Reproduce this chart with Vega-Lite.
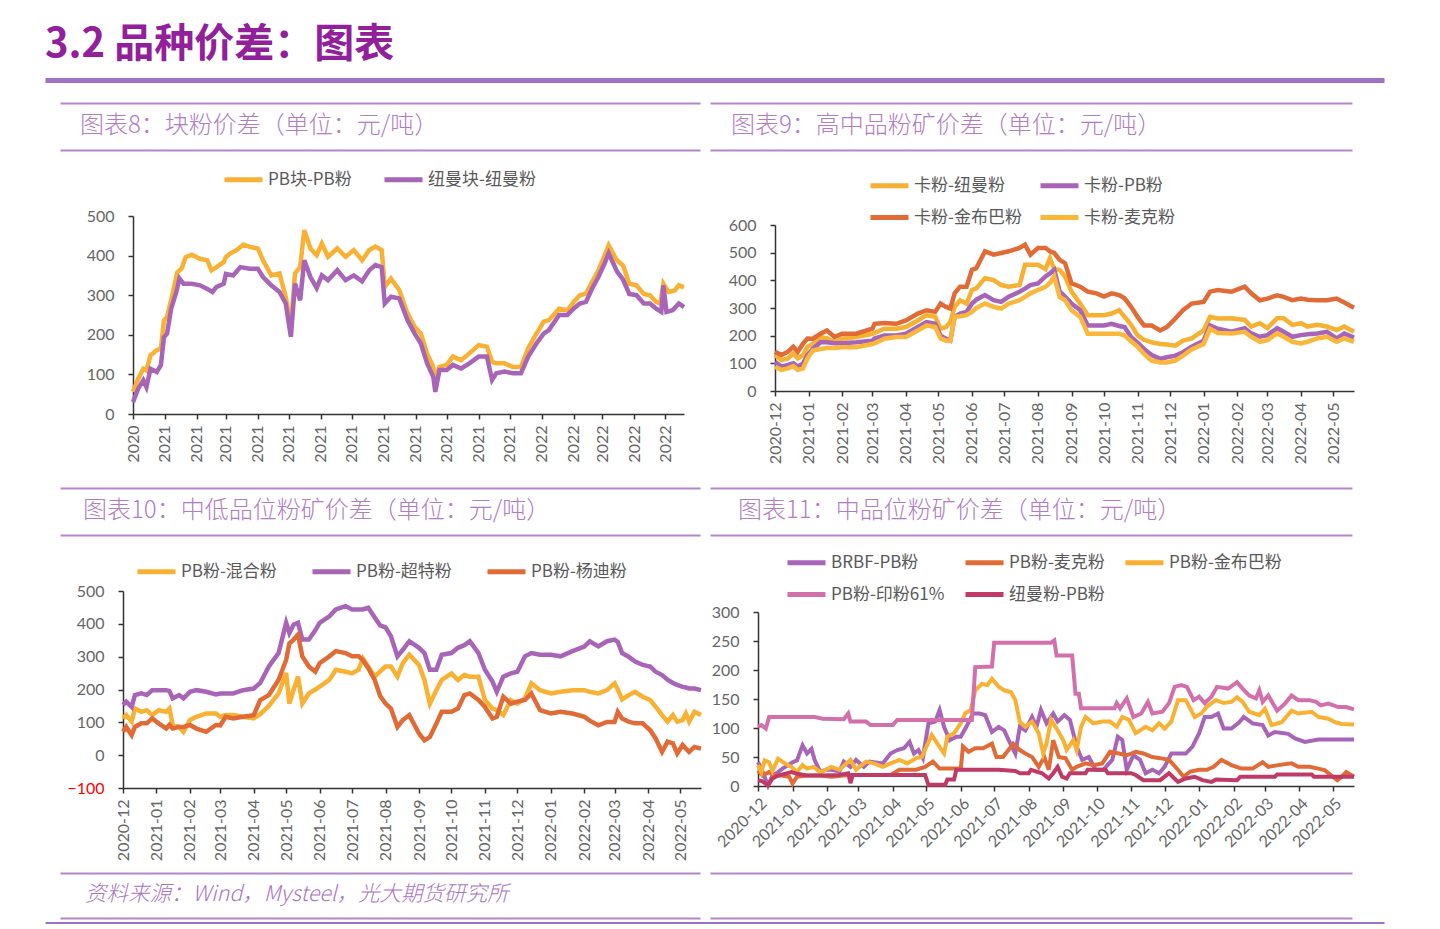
{
"$schema": "https://vega.github.io/schema/vega-lite/v6.json",
"background": "white",
"padding": {"left": 45, "top": 25, "right": 5, "bottom": 0},
"spacing": 0,
"resolve": {"scale": {"color": "independent", "x": "independent", "y": "independent"}, "legend": {"color": "independent"}},
"config": {
  "view": {"stroke": null},
  "font": "Noto Sans CJK SC",
  "axis": {"labelFont": "Lato", "labelFontSize": 16, "labelColor": "#666666", "domainColor": "#333333", "domainWidth": 1.5, "tickColor": "#333333", "tickWidth": 1.5, "tickSize": 5, "grid": false},
  "legend": {"labelFont": "Noto Sans CJK SC", "labelFontSize": 17, "labelColor": "#595959", "symbolType": "stroke", "symbolStrokeWidth": 5, "symbolSize": 1444, "labelOffset": 3}
},
"datasets": {
"p8a": [{"d":"2020-12-01","v":56},{"d":"2020-12-06","v":89},{"d":"2020-12-11","v":114},{"d":"2020-12-14","v":110},{"d":"2020-12-18","v":148},{"d":"2020-12-24","v":161},{"d":"2020-12-28","v":165},{"d":"2020-12-31","v":236},{"d":"2021-01-03","v":245},{"d":"2021-01-08","v":300},{"d":"2021-01-13","v":358},{"d":"2021-01-17","v":367},{"d":"2021-01-21","v":396},{"d":"2021-01-27","v":402},{"d":"2021-02-04","v":392},{"d":"2021-02-11","v":388},{"d":"2021-02-15","v":363},{"d":"2021-02-20","v":371},{"d":"2021-02-27","v":384},{"d":"2021-03-01","v":396},{"d":"2021-03-05","v":405},{"d":"2021-03-11","v":413},{"d":"2021-03-18","v":428},{"d":"2021-03-24","v":422},{"d":"2021-04-01","v":418},{"d":"2021-04-06","v":388},{"d":"2021-04-14","v":350},{"d":"2021-04-22","v":355},{"d":"2021-04-28","v":296},{"d":"2021-05-03","v":220},{"d":"2021-05-07","v":355},{"d":"2021-05-12","v":371},{"d":"2021-05-16","v":464},{"d":"2021-05-22","v":418},{"d":"2021-05-28","v":401},{"d":"2021-06-02","v":430},{"d":"2021-06-08","v":397},{"d":"2021-06-17","v":418},{"d":"2021-06-25","v":397},{"d":"2021-07-03","v":414},{"d":"2021-07-11","v":388},{"d":"2021-07-18","v":414},{"d":"2021-07-24","v":423},{"d":"2021-07-30","v":414},{"d":"2021-08-02","v":321},{"d":"2021-08-08","v":342},{"d":"2021-08-16","v":313},{"d":"2021-08-24","v":254},{"d":"2021-08-31","v":220},{"d":"2021-09-06","v":203},{"d":"2021-09-12","v":153},{"d":"2021-09-18","v":119},{"d":"2021-09-20","v":86},{"d":"2021-09-24","v":119},{"d":"2021-10-01","v":124},{"d":"2021-10-07","v":145},{"d":"2021-10-15","v":136},{"d":"2021-10-23","v":153},{"d":"2021-11-01","v":174},{"d":"2021-11-09","v":170},{"d":"2021-11-14","v":132},{"d":"2021-11-18","v":128},{"d":"2021-11-26","v":128},{"d":"2021-12-04","v":119},{"d":"2021-12-12","v":119},{"d":"2021-12-19","v":166},{"d":"2021-12-27","v":203},{"d":"2022-01-03","v":233},{"d":"2022-01-08","v":237},{"d":"2022-01-18","v":266},{"d":"2022-01-26","v":262},{"d":"2022-02-01","v":283},{"d":"2022-02-07","v":300},{"d":"2022-02-13","v":304},{"d":"2022-02-19","v":334},{"d":"2022-02-25","v":363},{"d":"2022-03-03","v":400},{"d":"2022-03-07","v":426},{"d":"2022-03-15","v":388},{"d":"2022-03-21","v":375},{"d":"2022-03-27","v":329},{"d":"2022-04-03","v":325},{"d":"2022-04-10","v":303},{"d":"2022-04-16","v":300},{"d":"2022-04-22","v":283},{"d":"2022-04-26","v":279},{"d":"2022-04-29","v":329},{"d":"2022-05-04","v":308},{"d":"2022-05-10","v":312},{"d":"2022-05-14","v":325},{"d":"2022-05-19","v":320}],
"p8b": [{"d":"2020-12-01","v":30},{"d":"2020-12-06","v":64},{"d":"2020-12-11","v":85},{"d":"2020-12-14","v":68},{"d":"2020-12-18","v":114},{"d":"2020-12-24","v":106},{"d":"2020-12-28","v":123},{"d":"2020-12-31","v":194},{"d":"2021-01-03","v":203},{"d":"2021-01-07","v":266},{"d":"2021-01-12","v":308},{"d":"2021-01-15","v":342},{"d":"2021-01-19","v":329},{"d":"2021-01-27","v":329},{"d":"2021-02-04","v":325},{"d":"2021-02-11","v":316},{"d":"2021-02-16","v":308},{"d":"2021-02-20","v":321},{"d":"2021-02-27","v":329},{"d":"2021-03-01","v":354},{"d":"2021-03-08","v":350},{"d":"2021-03-15","v":371},{"d":"2021-03-24","v":367},{"d":"2021-04-01","v":367},{"d":"2021-04-06","v":346},{"d":"2021-04-14","v":325},{"d":"2021-04-22","v":308},{"d":"2021-04-28","v":279},{"d":"2021-05-03","v":195},{"d":"2021-05-07","v":329},{"d":"2021-05-12","v":287},{"d":"2021-05-16","v":388},{"d":"2021-05-22","v":346},{"d":"2021-05-28","v":318},{"d":"2021-06-02","v":350},{"d":"2021-06-08","v":338},{"d":"2021-06-17","v":363},{"d":"2021-06-25","v":338},{"d":"2021-07-03","v":350},{"d":"2021-07-11","v":335},{"d":"2021-07-18","v":363},{"d":"2021-07-24","v":376},{"d":"2021-07-30","v":371},{"d":"2021-08-02","v":279},{"d":"2021-08-08","v":296},{"d":"2021-08-16","v":292},{"d":"2021-08-24","v":237},{"d":"2021-08-31","v":203},{"d":"2021-09-06","v":178},{"d":"2021-09-12","v":128},{"d":"2021-09-18","v":94},{"d":"2021-09-20","v":56},{"d":"2021-09-24","v":111},{"d":"2021-10-01","v":111},{"d":"2021-10-07","v":124},{"d":"2021-10-15","v":115},{"d":"2021-10-23","v":128},{"d":"2021-11-01","v":145},{"d":"2021-11-09","v":145},{"d":"2021-11-14","v":86},{"d":"2021-11-18","v":103},{"d":"2021-11-26","v":107},{"d":"2021-12-04","v":103},{"d":"2021-12-12","v":103},{"d":"2021-12-19","v":145},{"d":"2021-12-27","v":178},{"d":"2022-01-03","v":203},{"d":"2022-01-08","v":212},{"d":"2022-01-18","v":250},{"d":"2022-01-26","v":250},{"d":"2022-02-01","v":266},{"d":"2022-02-07","v":279},{"d":"2022-02-13","v":283},{"d":"2022-02-19","v":317},{"d":"2022-02-25","v":346},{"d":"2022-03-03","v":380},{"d":"2022-03-07","v":406},{"d":"2022-03-15","v":360},{"d":"2022-03-21","v":339},{"d":"2022-03-27","v":303},{"d":"2022-04-03","v":300},{"d":"2022-04-10","v":279},{"d":"2022-04-16","v":279},{"d":"2022-04-22","v":266},{"d":"2022-04-27","v":258},{"d":"2022-04-29","v":325},{"d":"2022-05-02","v":258},{"d":"2022-05-08","v":262},{"d":"2022-05-14","v":279},{"d":"2022-05-19","v":270}],
"p9a": [{"d":"2020-12-01","v":130},{"d":"2020-12-07","v":112},{"d":"2020-12-13","v":118},{"d":"2020-12-18","v":136},{"d":"2020-12-22","v":118},{"d":"2020-12-27","v":130},{"d":"2020-12-31","v":160},{"d":"2021-01-05","v":170},{"d":"2021-01-12","v":195},{"d":"2021-01-18","v":190},{"d":"2021-01-25","v":176},{"d":"2021-02-01","v":189},{"d":"2021-02-14","v":195},{"d":"2021-03-01","v":207},{"d":"2021-03-03","v":210},{"d":"2021-03-12","v":225},{"d":"2021-03-23","v":225},{"d":"2021-04-01","v":231},{"d":"2021-04-12","v":255},{"d":"2021-04-20","v":274},{"d":"2021-04-28","v":268},{"d":"2021-05-03","v":225},{"d":"2021-05-08","v":231},{"d":"2021-05-12","v":250},{"d":"2021-05-16","v":304},{"d":"2021-05-21","v":328},{"d":"2021-05-27","v":316},{"d":"2021-06-01","v":365},{"d":"2021-06-05","v":371},{"d":"2021-06-13","v":408},{"d":"2021-06-21","v":401},{"d":"2021-06-28","v":383},{"d":"2021-07-05","v":377},{"d":"2021-07-15","v":383},{"d":"2021-07-20","v":456},{"d":"2021-07-25","v":456},{"d":"2021-08-01","v":456},{"d":"2021-08-08","v":440},{"d":"2021-08-12","v":480},{"d":"2021-08-16","v":440},{"d":"2021-08-21","v":438},{"d":"2021-08-26","v":414},{"d":"2021-09-01","v":359},{"d":"2021-09-09","v":316},{"d":"2021-09-16","v":274},{"d":"2021-09-24","v":274},{"d":"2021-10-01","v":274},{"d":"2021-10-08","v":280},{"d":"2021-10-15","v":292},{"d":"2021-10-20","v":268},{"d":"2021-10-26","v":240},{"d":"2021-11-01","v":201},{"d":"2021-11-07","v":185},{"d":"2021-11-14","v":176},{"d":"2021-11-22","v":170},{"d":"2021-11-28","v":168},{"d":"2021-12-06","v":164},{"d":"2021-12-13","v":182},{"d":"2021-12-21","v":190},{"d":"2022-01-01","v":219},{"d":"2022-01-07","v":268},{"d":"2022-01-14","v":262},{"d":"2022-01-27","v":263},{"d":"2022-02-08","v":257},{"d":"2022-02-14","v":233},{"d":"2022-02-22","v":245},{"d":"2022-03-01","v":227},{"d":"2022-03-10","v":263},{"d":"2022-03-16","v":263},{"d":"2022-03-24","v":239},{"d":"2022-04-01","v":245},{"d":"2022-04-07","v":233},{"d":"2022-04-16","v":239},{"d":"2022-04-25","v":233},{"d":"2022-05-04","v":220},{"d":"2022-05-11","v":233},{"d":"2022-05-20","v":214}],
"p9b": [{"d":"2020-12-01","v":106},{"d":"2020-12-07","v":88},{"d":"2020-12-13","v":94},{"d":"2020-12-18","v":100},{"d":"2020-12-22","v":88},{"d":"2020-12-27","v":100},{"d":"2020-12-31","v":130},{"d":"2021-01-05","v":152},{"d":"2021-01-12","v":176},{"d":"2021-01-18","v":176},{"d":"2021-01-25","v":173},{"d":"2021-02-01","v":173},{"d":"2021-02-14","v":176},{"d":"2021-03-01","v":182},{"d":"2021-03-03","v":190},{"d":"2021-03-12","v":201},{"d":"2021-03-23","v":201},{"d":"2021-04-01","v":207},{"d":"2021-04-12","v":231},{"d":"2021-04-20","v":249},{"d":"2021-04-28","v":243},{"d":"2021-05-03","v":200},{"d":"2021-05-08","v":189},{"d":"2021-05-12","v":182},{"d":"2021-05-16","v":268},{"d":"2021-05-21","v":280},{"d":"2021-05-27","v":286},{"d":"2021-06-01","v":316},{"d":"2021-06-05","v":330},{"d":"2021-06-13","v":347},{"d":"2021-06-21","v":328},{"d":"2021-06-28","v":322},{"d":"2021-07-05","v":341},{"d":"2021-07-15","v":359},{"d":"2021-07-20","v":370},{"d":"2021-07-25","v":383},{"d":"2021-08-01","v":389},{"d":"2021-08-08","v":414},{"d":"2021-08-12","v":425},{"d":"2021-08-16","v":438},{"d":"2021-08-21","v":360},{"d":"2021-08-26","v":341},{"d":"2021-09-01","v":316},{"d":"2021-09-09","v":292},{"d":"2021-09-16","v":237},{"d":"2021-09-24","v":237},{"d":"2021-10-01","v":237},{"d":"2021-10-08","v":243},{"d":"2021-10-15","v":235},{"d":"2021-10-20","v":231},{"d":"2021-10-26","v":195},{"d":"2021-11-01","v":175},{"d":"2021-11-07","v":152},{"d":"2021-11-14","v":130},{"d":"2021-11-22","v":116},{"d":"2021-11-28","v":122},{"d":"2021-12-06","v":128},{"d":"2021-12-13","v":140},{"d":"2021-12-21","v":160},{"d":"2022-01-01","v":182},{"d":"2022-01-07","v":237},{"d":"2022-01-14","v":225},{"d":"2022-01-27","v":214},{"d":"2022-02-08","v":227},{"d":"2022-02-14","v":208},{"d":"2022-02-22","v":196},{"d":"2022-03-01","v":202},{"d":"2022-03-10","v":227},{"d":"2022-03-16","v":214},{"d":"2022-03-24","v":196},{"d":"2022-04-01","v":202},{"d":"2022-04-07","v":205},{"d":"2022-04-16","v":208},{"d":"2022-04-25","v":214},{"d":"2022-05-04","v":190},{"d":"2022-05-11","v":208},{"d":"2022-05-20","v":193}],
"p9c": [{"d":"2020-12-01","v":142},{"d":"2020-12-07","v":130},{"d":"2020-12-13","v":142},{"d":"2020-12-18","v":160},{"d":"2020-12-22","v":142},{"d":"2020-12-27","v":172},{"d":"2020-12-31","v":190},{"d":"2021-01-05","v":189},{"d":"2021-01-12","v":207},{"d":"2021-01-18","v":219},{"d":"2021-01-25","v":195},{"d":"2021-02-01","v":207},{"d":"2021-02-14","v":207},{"d":"2021-03-01","v":225},{"d":"2021-03-03","v":243},{"d":"2021-03-12","v":246},{"d":"2021-03-23","v":243},{"d":"2021-04-01","v":255},{"d":"2021-04-12","v":280},{"d":"2021-04-20","v":292},{"d":"2021-04-28","v":286},{"d":"2021-05-03","v":316},{"d":"2021-05-08","v":304},{"d":"2021-05-12","v":298},{"d":"2021-05-16","v":353},{"d":"2021-05-21","v":377},{"d":"2021-05-27","v":377},{"d":"2021-06-01","v":438},{"d":"2021-06-05","v":444},{"d":"2021-06-13","v":505},{"d":"2021-06-21","v":493},{"d":"2021-06-28","v":499},{"d":"2021-07-05","v":505},{"d":"2021-07-15","v":517},{"d":"2021-07-20","v":529},{"d":"2021-07-25","v":493},{"d":"2021-08-01","v":517},{"d":"2021-08-08","v":517},{"d":"2021-08-12","v":505},{"d":"2021-08-16","v":499},{"d":"2021-08-21","v":474},{"d":"2021-08-26","v":462},{"d":"2021-09-01","v":389},{"d":"2021-09-09","v":377},{"d":"2021-09-16","v":359},{"d":"2021-09-24","v":353},{"d":"2021-10-01","v":341},{"d":"2021-10-08","v":353},{"d":"2021-10-15","v":347},{"d":"2021-10-20","v":335},{"d":"2021-10-26","v":304},{"d":"2021-11-01","v":268},{"d":"2021-11-07","v":237},{"d":"2021-11-14","v":237},{"d":"2021-11-22","v":219},{"d":"2021-11-28","v":231},{"d":"2021-12-06","v":262},{"d":"2021-12-13","v":292},{"d":"2021-12-21","v":316},{"d":"2022-01-01","v":322},{"d":"2022-01-07","v":359},{"d":"2022-01-14","v":365},{"d":"2022-01-27","v":359},{"d":"2022-02-08","v":377},{"d":"2022-02-14","v":353},{"d":"2022-02-22","v":328},{"d":"2022-03-01","v":334},{"d":"2022-03-10","v":346},{"d":"2022-03-16","v":340},{"d":"2022-03-24","v":328},{"d":"2022-04-01","v":334},{"d":"2022-04-07","v":330},{"d":"2022-04-16","v":328},{"d":"2022-04-25","v":328},{"d":"2022-05-04","v":334},{"d":"2022-05-11","v":320},{"d":"2022-05-20","v":301}],
"p9d": [{"d":"2020-12-01","v":88},{"d":"2020-12-07","v":76},{"d":"2020-12-13","v":82},{"d":"2020-12-18","v":90},{"d":"2020-12-22","v":76},{"d":"2020-12-27","v":82},{"d":"2020-12-31","v":118},{"d":"2021-01-05","v":146},{"d":"2021-01-12","v":152},{"d":"2021-01-18","v":155},{"d":"2021-01-25","v":155},{"d":"2021-02-01","v":158},{"d":"2021-02-14","v":158},{"d":"2021-03-01","v":170},{"d":"2021-03-03","v":172},{"d":"2021-03-12","v":189},{"d":"2021-03-23","v":195},{"d":"2021-04-01","v":195},{"d":"2021-04-12","v":219},{"d":"2021-04-20","v":237},{"d":"2021-04-28","v":231},{"d":"2021-05-03","v":190},{"d":"2021-05-08","v":182},{"d":"2021-05-12","v":182},{"d":"2021-05-16","v":268},{"d":"2021-05-21","v":270},{"d":"2021-05-27","v":274},{"d":"2021-06-01","v":286},{"d":"2021-06-05","v":300},{"d":"2021-06-13","v":316},{"d":"2021-06-21","v":304},{"d":"2021-06-28","v":298},{"d":"2021-07-05","v":316},{"d":"2021-07-15","v":328},{"d":"2021-07-20","v":340},{"d":"2021-07-25","v":353},{"d":"2021-08-01","v":365},{"d":"2021-08-08","v":377},{"d":"2021-08-12","v":390},{"d":"2021-08-16","v":414},{"d":"2021-08-21","v":340},{"d":"2021-08-26","v":328},{"d":"2021-09-01","v":292},{"d":"2021-09-09","v":268},{"d":"2021-09-16","v":207},{"d":"2021-09-24","v":207},{"d":"2021-10-01","v":207},{"d":"2021-10-08","v":207},{"d":"2021-10-15","v":207},{"d":"2021-10-20","v":201},{"d":"2021-10-26","v":180},{"d":"2021-11-01","v":160},{"d":"2021-11-07","v":134},{"d":"2021-11-14","v":110},{"d":"2021-11-22","v":103},{"d":"2021-11-28","v":103},{"d":"2021-12-06","v":110},{"d":"2021-12-13","v":128},{"d":"2021-12-21","v":150},{"d":"2022-01-01","v":170},{"d":"2022-01-07","v":225},{"d":"2022-01-14","v":210},{"d":"2022-01-27","v":208},{"d":"2022-02-08","v":214},{"d":"2022-02-14","v":196},{"d":"2022-02-22","v":178},{"d":"2022-03-01","v":184},{"d":"2022-03-10","v":208},{"d":"2022-03-16","v":196},{"d":"2022-03-24","v":178},{"d":"2022-04-01","v":172},{"d":"2022-04-07","v":178},{"d":"2022-04-16","v":190},{"d":"2022-04-25","v":196},{"d":"2022-05-04","v":178},{"d":"2022-05-11","v":190},{"d":"2022-05-20","v":178}],
"p10a": [{"d":"2020-12-01","v":112},{"d":"2020-12-04","v":122},{"d":"2020-12-09","v":102},{"d":"2020-12-12","v":142},{"d":"2020-12-18","v":132},{"d":"2020-12-23","v":137},{"d":"2020-12-28","v":122},{"d":"2021-01-03","v":137},{"d":"2021-01-10","v":132},{"d":"2021-01-13","v":142},{"d":"2021-01-16","v":92},{"d":"2021-01-22","v":86},{"d":"2021-01-26","v":71},{"d":"2021-02-01","v":107},{"d":"2021-02-07","v":117},{"d":"2021-02-16","v":127},{"d":"2021-02-25","v":127},{"d":"2021-03-01","v":117},{"d":"2021-03-06","v":122},{"d":"2021-03-13","v":122},{"d":"2021-03-22","v":117},{"d":"2021-04-01","v":112},{"d":"2021-04-07","v":125},{"d":"2021-04-15","v":150},{"d":"2021-04-24","v":188},{"d":"2021-05-01","v":250},{"d":"2021-05-04","v":157},{"d":"2021-05-08","v":200},{"d":"2021-05-12","v":239},{"d":"2021-05-16","v":157},{"d":"2021-05-22","v":188},{"d":"2021-05-28","v":200},{"d":"2021-06-01","v":209},{"d":"2021-06-10","v":229},{"d":"2021-06-16","v":260},{"d":"2021-06-25","v":254},{"d":"2021-07-01","v":249},{"d":"2021-07-07","v":260},{"d":"2021-07-11","v":295},{"d":"2021-07-16","v":270},{"d":"2021-07-22","v":239},{"d":"2021-07-27","v":255},{"d":"2021-08-01","v":270},{"d":"2021-08-06","v":270},{"d":"2021-08-12","v":239},{"d":"2021-08-17","v":280},{"d":"2021-08-23","v":306},{"d":"2021-09-01","v":275},{"d":"2021-09-06","v":229},{"d":"2021-09-11","v":157},{"d":"2021-09-17","v":198},{"d":"2021-09-22","v":229},{"d":"2021-10-01","v":249},{"d":"2021-10-07","v":229},{"d":"2021-10-13","v":244},{"d":"2021-10-18","v":239},{"d":"2021-10-26","v":239},{"d":"2021-11-01","v":168},{"d":"2021-11-08","v":142},{"d":"2021-11-12","v":137},{"d":"2021-11-18","v":122},{"d":"2021-11-25","v":168},{"d":"2021-12-01","v":157},{"d":"2021-12-08","v":173},{"d":"2021-12-14","v":219},{"d":"2021-12-22","v":198},{"d":"2022-01-01","v":188},{"d":"2022-01-10","v":193},{"d":"2022-01-21","v":198},{"d":"2022-02-01","v":198},{"d":"2022-02-06","v":193},{"d":"2022-02-14","v":188},{"d":"2022-02-22","v":198},{"d":"2022-03-01","v":219},{"d":"2022-03-04","v":200},{"d":"2022-03-08","v":170},{"d":"2022-03-14","v":183},{"d":"2022-03-20","v":193},{"d":"2022-03-27","v":178},{"d":"2022-04-03","v":168},{"d":"2022-04-08","v":148},{"d":"2022-04-14","v":122},{"d":"2022-04-19","v":102},{"d":"2022-04-24","v":122},{"d":"2022-04-28","v":102},{"d":"2022-05-03","v":107},{"d":"2022-05-06","v":127},{"d":"2022-05-09","v":102},{"d":"2022-05-14","v":132},{"d":"2022-05-20","v":122}],
"p10b": [{"d":"2020-12-01","v":153},{"d":"2020-12-04","v":163},{"d":"2020-12-09","v":147},{"d":"2020-12-12","v":183},{"d":"2020-12-18","v":188},{"d":"2020-12-23","v":183},{"d":"2020-12-28","v":198},{"d":"2021-01-03","v":198},{"d":"2021-01-10","v":198},{"d":"2021-01-13","v":195},{"d":"2021-01-16","v":173},{"d":"2021-01-22","v":183},{"d":"2021-01-26","v":173},{"d":"2021-02-01","v":193},{"d":"2021-02-07","v":198},{"d":"2021-02-16","v":193},{"d":"2021-02-25","v":185},{"d":"2021-03-01","v":188},{"d":"2021-03-06","v":188},{"d":"2021-03-13","v":188},{"d":"2021-03-22","v":198},{"d":"2021-04-01","v":203},{"d":"2021-04-07","v":220},{"d":"2021-04-15","v":270},{"d":"2021-04-24","v":311},{"d":"2021-05-01","v":403},{"d":"2021-05-04","v":372},{"d":"2021-05-08","v":398},{"d":"2021-05-12","v":403},{"d":"2021-05-16","v":352},{"d":"2021-05-22","v":352},{"d":"2021-05-28","v":380},{"d":"2021-06-01","v":403},{"d":"2021-06-10","v":423},{"d":"2021-06-16","v":444},{"d":"2021-06-25","v":454},{"d":"2021-07-01","v":444},{"d":"2021-07-07","v":444},{"d":"2021-07-11","v":444},{"d":"2021-07-16","v":449},{"d":"2021-07-22","v":419},{"d":"2021-07-27","v":395},{"d":"2021-08-01","v":389},{"d":"2021-08-06","v":362},{"d":"2021-08-12","v":301},{"d":"2021-08-17","v":321},{"d":"2021-08-23","v":347},{"d":"2021-09-01","v":327},{"d":"2021-09-06","v":311},{"d":"2021-09-11","v":260},{"d":"2021-09-17","v":260},{"d":"2021-09-22","v":306},{"d":"2021-10-01","v":311},{"d":"2021-10-07","v":327},{"d":"2021-10-13","v":335},{"d":"2021-10-18","v":347},{"d":"2021-10-26","v":311},{"d":"2021-11-01","v":260},{"d":"2021-11-08","v":224},{"d":"2021-11-12","v":193},{"d":"2021-11-18","v":239},{"d":"2021-11-25","v":249},{"d":"2021-12-01","v":254},{"d":"2021-12-08","v":301},{"d":"2021-12-14","v":311},{"d":"2021-12-22","v":306},{"d":"2022-01-01","v":306},{"d":"2022-01-10","v":301},{"d":"2022-01-21","v":317},{"d":"2022-02-01","v":331},{"d":"2022-02-06","v":347},{"d":"2022-02-14","v":331},{"d":"2022-02-22","v":347},{"d":"2022-03-01","v":352},{"d":"2022-03-04","v":345},{"d":"2022-03-08","v":311},{"d":"2022-03-14","v":300},{"d":"2022-03-20","v":285},{"d":"2022-03-27","v":275},{"d":"2022-04-03","v":270},{"d":"2022-04-08","v":254},{"d":"2022-04-14","v":244},{"d":"2022-04-19","v":230},{"d":"2022-04-24","v":220},{"d":"2022-04-28","v":214},{"d":"2022-05-03","v":208},{"d":"2022-05-06","v":206},{"d":"2022-05-09","v":203},{"d":"2022-05-14","v":203},{"d":"2022-05-20","v":198}],
"p10c": [{"d":"2020-12-01","v":71},{"d":"2020-12-04","v":86},{"d":"2020-12-09","v":61},{"d":"2020-12-12","v":86},{"d":"2020-12-18","v":97},{"d":"2020-12-23","v":97},{"d":"2020-12-28","v":112},{"d":"2021-01-03","v":97},{"d":"2021-01-10","v":81},{"d":"2021-01-13","v":92},{"d":"2021-01-16","v":81},{"d":"2021-01-22","v":86},{"d":"2021-01-26","v":86},{"d":"2021-02-01","v":92},{"d":"2021-02-07","v":81},{"d":"2021-02-16","v":71},{"d":"2021-02-25","v":92},{"d":"2021-03-01","v":91},{"d":"2021-03-06","v":117},{"d":"2021-03-13","v":112},{"d":"2021-03-22","v":117},{"d":"2021-04-01","v":122},{"d":"2021-04-07","v":168},{"d":"2021-04-15","v":183},{"d":"2021-04-24","v":229},{"d":"2021-05-01","v":290},{"d":"2021-05-04","v":340},{"d":"2021-05-08","v":352},{"d":"2021-05-12","v":367},{"d":"2021-05-16","v":301},{"d":"2021-05-22","v":270},{"d":"2021-05-28","v":254},{"d":"2021-06-01","v":280},{"d":"2021-06-10","v":301},{"d":"2021-06-16","v":317},{"d":"2021-06-25","v":311},{"d":"2021-07-01","v":301},{"d":"2021-07-07","v":301},{"d":"2021-07-11","v":290},{"d":"2021-07-16","v":265},{"d":"2021-07-22","v":229},{"d":"2021-07-27","v":180},{"d":"2021-08-01","v":157},{"d":"2021-08-06","v":142},{"d":"2021-08-12","v":86},{"d":"2021-08-17","v":107},{"d":"2021-08-23","v":122},{"d":"2021-09-01","v":66},{"d":"2021-09-06","v":45},{"d":"2021-09-11","v":55},{"d":"2021-09-17","v":96},{"d":"2021-09-22","v":132},{"d":"2021-10-01","v":132},{"d":"2021-10-07","v":142},{"d":"2021-10-13","v":183},{"d":"2021-10-18","v":188},{"d":"2021-10-26","v":168},{"d":"2021-11-01","v":147},{"d":"2021-11-08","v":112},{"d":"2021-11-12","v":117},{"d":"2021-11-18","v":178},{"d":"2021-11-25","v":157},{"d":"2021-12-01","v":163},{"d":"2021-12-08","v":168},{"d":"2021-12-14","v":188},{"d":"2021-12-22","v":137},{"d":"2022-01-01","v":127},{"d":"2022-01-10","v":132},{"d":"2022-01-21","v":127},{"d":"2022-02-01","v":117},{"d":"2022-02-06","v":105},{"d":"2022-02-14","v":91},{"d":"2022-02-22","v":101},{"d":"2022-03-01","v":101},{"d":"2022-03-04","v":132},{"d":"2022-03-08","v":112},{"d":"2022-03-14","v":102},{"d":"2022-03-20","v":97},{"d":"2022-03-27","v":97},{"d":"2022-04-03","v":76},{"d":"2022-04-08","v":51},{"d":"2022-04-14","v":10},{"d":"2022-04-19","v":41},{"d":"2022-04-24","v":36},{"d":"2022-04-28","v":5},{"d":"2022-05-03","v":31},{"d":"2022-05-06","v":20},{"d":"2022-05-09","v":10},{"d":"2022-05-14","v":25},{"d":"2022-05-20","v":20}],
"p11a": [{"d":"2020-12-01","v":41},{"d":"2020-12-04","v":30},{"d":"2020-12-10","v":1},{"d":"2020-12-14","v":18},{"d":"2020-12-19","v":24},{"d":"2020-12-23","v":30},{"d":"2020-12-28","v":36},{"d":"2021-01-01","v":41},{"d":"2021-01-05","v":44},{"d":"2021-01-10","v":70},{"d":"2021-01-14","v":56},{"d":"2021-01-18","v":64},{"d":"2021-01-21","v":44},{"d":"2021-01-26","v":24},{"d":"2021-01-31","v":28},{"d":"2021-02-05","v":28},{"d":"2021-02-12","v":25},{"d":"2021-02-16","v":42},{"d":"2021-02-22","v":33},{"d":"2021-02-27","v":45},{"d":"2021-03-06","v":33},{"d":"2021-03-11","v":42},{"d":"2021-03-23","v":39},{"d":"2021-03-30","v":56},{"d":"2021-04-05","v":62},{"d":"2021-04-11","v":65},{"d":"2021-04-16","v":76},{"d":"2021-04-20","v":56},{"d":"2021-04-24","v":62},{"d":"2021-04-28","v":48},{"d":"2021-05-03","v":108},{"d":"2021-05-09","v":111},{"d":"2021-05-13","v":131},{"d":"2021-05-17","v":102},{"d":"2021-05-22","v":79},{"d":"2021-05-28","v":85},{"d":"2021-06-01","v":85},{"d":"2021-06-06","v":102},{"d":"2021-06-12","v":125},{"d":"2021-06-18","v":125},{"d":"2021-06-23","v":122},{"d":"2021-06-29","v":93},{"d":"2021-07-05","v":102},{"d":"2021-07-10","v":96},{"d":"2021-07-14","v":79},{"d":"2021-07-20","v":56},{"d":"2021-07-24","v":102},{"d":"2021-07-29","v":96},{"d":"2021-08-04","v":119},{"d":"2021-08-08","v":102},{"d":"2021-08-12","v":131},{"d":"2021-08-17","v":108},{"d":"2021-08-23","v":125},{"d":"2021-08-27","v":111},{"d":"2021-09-02","v":122},{"d":"2021-09-07","v":114},{"d":"2021-09-13","v":68},{"d":"2021-09-18","v":45},{"d":"2021-09-24","v":50},{"d":"2021-09-30","v":28},{"d":"2021-10-07","v":28},{"d":"2021-10-15","v":45},{"d":"2021-10-20","v":85},{"d":"2021-10-24","v":79},{"d":"2021-10-28","v":28},{"d":"2021-11-03","v":53},{"d":"2021-11-09","v":45},{"d":"2021-11-14","v":22},{"d":"2021-11-20","v":28},{"d":"2021-11-26","v":22},{"d":"2021-12-01","v":33},{"d":"2021-12-07","v":56},{"d":"2021-12-15","v":56},{"d":"2021-12-20","v":56},{"d":"2021-12-26","v":68},{"d":"2022-01-01","v":91},{"d":"2022-01-06","v":119},{"d":"2022-01-12","v":119},{"d":"2022-01-18","v":125},{"d":"2022-01-23","v":99},{"d":"2022-01-30","v":99},{"d":"2022-02-06","v":110},{"d":"2022-02-10","v":119},{"d":"2022-02-18","v":108},{"d":"2022-02-27","v":105},{"d":"2022-03-04","v":87},{"d":"2022-03-10","v":93},{"d":"2022-03-22","v":90},{"d":"2022-03-28","v":82},{"d":"2022-04-06","v":76},{"d":"2022-04-18","v":80},{"d":"2022-04-30","v":80},{"d":"2022-05-20","v":80}],
"p11b": [{"d":"2020-12-01","v":27},{"d":"2020-12-05","v":18},{"d":"2020-12-11","v":24},{"d":"2020-12-16","v":18},{"d":"2020-12-22","v":18},{"d":"2020-12-29","v":16},{"d":"2021-01-01","v":4},{"d":"2021-01-05","v":16},{"d":"2021-01-14","v":18},{"d":"2021-01-26","v":18},{"d":"2021-02-05","v":16},{"d":"2021-02-20","v":19},{"d":"2021-03-15","v":19},{"d":"2021-03-30","v":19},{"d":"2021-04-07","v":28},{"d":"2021-04-22","v":28},{"d":"2021-04-30","v":33},{"d":"2021-05-07","v":42},{"d":"2021-05-13","v":30},{"d":"2021-06-01","v":30},{"d":"2021-06-03","v":68},{"d":"2021-06-08","v":59},{"d":"2021-06-14","v":65},{"d":"2021-06-21","v":65},{"d":"2021-06-29","v":73},{"d":"2021-07-03","v":50},{"d":"2021-07-09","v":50},{"d":"2021-07-15","v":65},{"d":"2021-07-18","v":73},{"d":"2021-07-24","v":62},{"d":"2021-07-29","v":56},{"d":"2021-08-04","v":50},{"d":"2021-08-10","v":33},{"d":"2021-08-15","v":50},{"d":"2021-08-19","v":28},{"d":"2021-08-23","v":79},{"d":"2021-08-28","v":50},{"d":"2021-09-03","v":48},{"d":"2021-09-09","v":28},{"d":"2021-09-13","v":33},{"d":"2021-09-21","v":39},{"d":"2021-09-28","v":36},{"d":"2021-10-06","v":39},{"d":"2021-10-13","v":59},{"d":"2021-10-21","v":56},{"d":"2021-10-28","v":53},{"d":"2021-11-05","v":59},{"d":"2021-11-12","v":56},{"d":"2021-11-20","v":50},{"d":"2021-11-27","v":48},{"d":"2021-12-05","v":45},{"d":"2021-12-13","v":28},{"d":"2021-12-18","v":16},{"d":"2021-12-24","v":25},{"d":"2022-01-01","v":28},{"d":"2022-01-08","v":28},{"d":"2022-01-14","v":33},{"d":"2022-01-21","v":45},{"d":"2022-01-30","v":36},{"d":"2022-02-08","v":30},{"d":"2022-02-18","v":30},{"d":"2022-02-27","v":41},{"d":"2022-03-04","v":33},{"d":"2022-03-13","v":36},{"d":"2022-03-25","v":39},{"d":"2022-03-31","v":33},{"d":"2022-04-10","v":33},{"d":"2022-04-18","v":30},{"d":"2022-04-24","v":27},{"d":"2022-05-01","v":16},{"d":"2022-05-05","v":10},{"d":"2022-05-09","v":16},{"d":"2022-05-13","v":24},{"d":"2022-05-20","v":16}],
"p11c": [{"d":"2020-12-01","v":36},{"d":"2020-12-04","v":24},{"d":"2020-12-07","v":44},{"d":"2020-12-11","v":41},{"d":"2020-12-14","v":26},{"d":"2020-12-19","v":47},{"d":"2020-12-25","v":39},{"d":"2020-12-31","v":33},{"d":"2021-01-05","v":24},{"d":"2021-01-10","v":36},{"d":"2021-01-14","v":30},{"d":"2021-01-20","v":33},{"d":"2021-01-26","v":24},{"d":"2021-02-05","v":33},{"d":"2021-02-12","v":28},{"d":"2021-02-22","v":45},{"d":"2021-02-27","v":28},{"d":"2021-03-08","v":42},{"d":"2021-03-15","v":39},{"d":"2021-03-23","v":33},{"d":"2021-03-30","v":39},{"d":"2021-04-07","v":45},{"d":"2021-04-14","v":39},{"d":"2021-04-22","v":48},{"d":"2021-04-27","v":50},{"d":"2021-05-06","v":88},{"d":"2021-05-11","v":73},{"d":"2021-05-17","v":56},{"d":"2021-05-20","v":85},{"d":"2021-05-26","v":91},{"d":"2021-06-01","v":108},{"d":"2021-06-05","v":125},{"d":"2021-06-10","v":131},{"d":"2021-06-14","v":165},{"d":"2021-06-20","v":176},{"d":"2021-06-25","v":174},{"d":"2021-06-29","v":185},{"d":"2021-07-05","v":171},{"d":"2021-07-10","v":165},{"d":"2021-07-16","v":162},{"d":"2021-07-20","v":148},{"d":"2021-07-24","v":111},{"d":"2021-07-29","v":102},{"d":"2021-08-04","v":111},{"d":"2021-08-10","v":91},{"d":"2021-08-14","v":56},{"d":"2021-08-17","v":73},{"d":"2021-08-21","v":114},{"d":"2021-08-25","v":102},{"d":"2021-09-01","v":79},{"d":"2021-09-04","v":62},{"d":"2021-09-10","v":79},{"d":"2021-09-13","v":62},{"d":"2021-09-17","v":102},{"d":"2021-09-21","v":119},{"d":"2021-09-28","v":108},{"d":"2021-10-06","v":111},{"d":"2021-10-13","v":111},{"d":"2021-10-19","v":102},{"d":"2021-10-24","v":119},{"d":"2021-10-30","v":114},{"d":"2021-11-05","v":91},{"d":"2021-11-14","v":102},{"d":"2021-11-20","v":96},{"d":"2021-11-26","v":108},{"d":"2021-12-01","v":99},{"d":"2021-12-07","v":111},{"d":"2021-12-13","v":148},{"d":"2021-12-20","v":148},{"d":"2021-12-28","v":119},{"d":"2022-01-03","v":125},{"d":"2022-01-08","v":137},{"d":"2022-01-16","v":148},{"d":"2022-01-23","v":143},{"d":"2022-01-30","v":145},{"d":"2022-02-04","v":153},{"d":"2022-02-09","v":145},{"d":"2022-02-15","v":128},{"d":"2022-02-24","v":122},{"d":"2022-03-01","v":133},{"d":"2022-03-07","v":105},{"d":"2022-03-16","v":110},{"d":"2022-03-25","v":130},{"d":"2022-03-31","v":125},{"d":"2022-04-12","v":128},{"d":"2022-04-18","v":119},{"d":"2022-04-27","v":116},{"d":"2022-05-03","v":110},{"d":"2022-05-09","v":107},{"d":"2022-05-20","v":106}],
"p11d": [{"d":"2020-12-01","v":102},{"d":"2020-12-04","v":105},{"d":"2020-12-08","v":99},{"d":"2020-12-11","v":119},{"d":"2021-01-21","v":119},{"d":"2021-01-28","v":116},{"d":"2021-02-16","v":115},{"d":"2021-02-20","v":125},{"d":"2021-02-22","v":111},{"d":"2021-03-08","v":111},{"d":"2021-03-12","v":105},{"d":"2021-04-01","v":105},{"d":"2021-04-05","v":114},{"d":"2021-06-11","v":114},{"d":"2021-06-14","v":205},{"d":"2021-06-29","v":206},{"d":"2021-07-01","v":247},{"d":"2021-08-21","v":247},{"d":"2021-08-24","v":251},{"d":"2021-08-26","v":225},{"d":"2021-09-09","v":225},{"d":"2021-09-12","v":159},{"d":"2021-09-15","v":159},{"d":"2021-09-17","v":134},{"d":"2021-10-17","v":134},{"d":"2021-10-19","v":143},{"d":"2021-10-22","v":134},{"d":"2021-10-28","v":151},{"d":"2021-11-03","v":119},{"d":"2021-11-10","v":125},{"d":"2021-11-16","v":145},{"d":"2021-11-20","v":125},{"d":"2021-11-29","v":128},{"d":"2021-12-05","v":143},{"d":"2021-12-10","v":171},{"d":"2021-12-16","v":174},{"d":"2021-12-21","v":171},{"d":"2021-12-27","v":148},{"d":"2022-01-01","v":154},{"d":"2022-01-06","v":143},{"d":"2022-01-12","v":154},{"d":"2022-01-17","v":171},{"d":"2022-01-27","v":168},{"d":"2022-02-04","v":179},{"d":"2022-02-09","v":168},{"d":"2022-02-15","v":156},{"d":"2022-02-21","v":151},{"d":"2022-02-24","v":165},{"d":"2022-02-27","v":145},{"d":"2022-03-04","v":156},{"d":"2022-03-12","v":130},{"d":"2022-03-19","v":142},{"d":"2022-03-25","v":156},{"d":"2022-03-31","v":148},{"d":"2022-04-10","v":148},{"d":"2022-04-16","v":145},{"d":"2022-04-20","v":139},{"d":"2022-04-27","v":142},{"d":"2022-05-06","v":136},{"d":"2022-05-13","v":136},{"d":"2022-05-20","v":132}],
"p11e": [{"d":"2020-12-01","v":10},{"d":"2020-12-05","v":8},{"d":"2020-12-10","v":1},{"d":"2020-12-14","v":13},{"d":"2020-12-19","v":18},{"d":"2020-12-25","v":21},{"d":"2020-12-31","v":24},{"d":"2021-01-05","v":21},{"d":"2021-01-14","v":18},{"d":"2021-01-26","v":18},{"d":"2021-02-12","v":19},{"d":"2021-02-20","v":22},{"d":"2021-02-22","v":5},{"d":"2021-02-24","v":19},{"d":"2021-03-15","v":19},{"d":"2021-04-30","v":19},{"d":"2021-05-03","v":2},{"d":"2021-05-18","v":2},{"d":"2021-05-20","v":11},{"d":"2021-05-26","v":11},{"d":"2021-05-28","v":28},{"d":"2021-07-05","v":28},{"d":"2021-07-20","v":26},{"d":"2021-07-24","v":22},{"d":"2021-08-01","v":22},{"d":"2021-08-03","v":28},{"d":"2021-08-13","v":22},{"d":"2021-08-19","v":13},{"d":"2021-08-23","v":22},{"d":"2021-08-27","v":33},{"d":"2021-08-31","v":16},{"d":"2021-09-04","v":13},{"d":"2021-09-07","v":22},{"d":"2021-09-21","v":22},{"d":"2021-09-23","v":28},{"d":"2021-10-09","v":28},{"d":"2021-10-11","v":22},{"d":"2021-11-01","v":22},{"d":"2021-11-05","v":19},{"d":"2021-11-12","v":10},{"d":"2021-11-27","v":10},{"d":"2021-12-05","v":22},{"d":"2021-12-13","v":7},{"d":"2021-12-20","v":13},{"d":"2021-12-28","v":16},{"d":"2022-01-04","v":10},{"d":"2022-01-12","v":7},{"d":"2022-01-16","v":11},{"d":"2022-02-04","v":10},{"d":"2022-02-07","v":16},{"d":"2022-03-10","v":16},{"d":"2022-03-12","v":20},{"d":"2022-04-12","v":20},{"d":"2022-04-14","v":16},{"d":"2022-05-20","v":16}]
},
"vconcat": [
  {
    "width": 1339, "height": 13,
    "title": {"text": "3.2 品种价差：图表", "anchor": "start", "frame": "group", "fontSize": 40, "font": "Noto Sans CJK SC", "fontWeight": "bold", "color": "#93209B", "offset": 2},
    "data": {"values": [{"t": ""}]},
    "mark": {"type": "text", "fontSize": 1},
    "encoding": {
      "text": {"field": "t", "type": "nominal"},
      "x": {"datum": 0, "type": "quantitative", "scale": {"domain": [0, 1], "nice": false, "zero": false}, "axis": {"orient": "bottom", "domain": true, "domainColor": "#9B72C6", "domainWidth": 5, "ticks": false, "labels": false, "grid": false, "title": null}}
    }
  },
  {
    "spacing": 0,
    "resolve": {"scale": {"color": "independent", "x": "independent", "y": "independent"}, "legend": {"color": "independent"}},
    "hconcat": [
      {"width": 15, "height": 1, "data": {"values": []}, "mark": "point", "encoding": {}},
      {
        "spacing": 0, "bounds": "flush",
        "resolve": {"scale": {"color": "independent", "x": "independent", "y": "independent"}, "legend": {"color": "independent"}},
        "vconcat": [
          {
            "width": 640, "height": 136,
            "data": {"values": [{"t": "图表8：块粉价差（单位：元/吨）"}]},
            "mark": {"type": "text", "align": "left", "baseline": "middle", "fontSize": 24, "fontWeight": 300, "color": "#B07CC6", "font": "Noto Sans CJK SC"},
            "encoding": {
              "text": {"field": "t", "type": "nominal"},
              "x": {"datum": 20, "type": "quantitative", "scale": {"domain": [0, 640], "nice": false, "zero": false}, "axis": null},
              "y": {"datum": 46, "type": "quantitative", "scale": {"domain": [0, 136], "nice": false, "zero": false, "reverse": true}, "axis": {"values": [23, 70], "grid": true, "gridColor": "#B685CB", "gridWidth": 2, "domain": false, "ticks": false, "labels": false, "title": null}}
            }
          },
          {
            "width": 624, "height": 198,
            "encoding": {
              "x": {"field": "d", "type": "temporal", "scale": {"domain": ["2020-12-01", "2022-05-19"], "range": [73, 624]}, "axis": {"format": "%Y", "tickCount": {"interval": "month", "step": 1}, "labelAngle": -90, "labelPadding": 6, "labelOverlap": false, "title": null}},
              "y": {"field": "v", "type": "quantitative", "scale": {"domain": [0, 500], "nice": false}, "axis": {"values": [0, 100, 200, 300, 400, 500], "offset": -73, "labelPadding": 14, "title": null}}
            },
            "layer": [
              {"data": {"name": "p8a"}, "mark": {"type": "line", "strokeWidth": 4.5}, "encoding": {"color": {"datum": "PB块-PB粉", "scale": {"domain": ["PB块-PB粉", "纽曼块-纽曼粉"], "range": ["#F8B133", "#A865B8"]}, "legend": {"orient": "none", "legendX": 162, "legendY": -58, "direction": "horizontal", "title": null, "columnPadding": 22}}}},
              {"data": {"name": "p8b"}, "mark": {"type": "line", "strokeWidth": 4.5}, "encoding": {"color": {"datum": "纽曼块-纽曼粉"}}}
            ]
          },
          {
            "width": 640, "height": 177,
            "data": {"values": [{"t": "图表10：中低品位粉矿价差（单位：元/吨）"}]},
            "mark": {"type": "text", "align": "left", "baseline": "middle", "fontSize": 24, "fontWeight": 300, "color": "#B07CC6", "font": "Noto Sans CJK SC"},
            "encoding": {
              "text": {"field": "t", "type": "nominal"},
              "x": {"datum": 23, "type": "quantitative", "scale": {"domain": [0, 640], "nice": false, "zero": false}, "axis": null},
              "y": {"datum": 97, "type": "quantitative", "scale": {"domain": [0, 177], "nice": false, "zero": false, "reverse": true}, "axis": {"values": [74, 121], "grid": true, "gridColor": "#B685CB", "gridWidth": 2, "domain": false, "ticks": false, "labels": false, "title": null}}
            }
          },
          {
            "width": 641, "height": 197,
            "encoding": {
              "x": {"field": "d", "type": "temporal", "scale": {"domain": ["2020-12-01", "2022-05-20"], "range": [63, 641]}, "axis": {"format": "%Y-%m", "tickCount": {"interval": "month", "step": 1}, "labelAngle": -90, "labelPadding": 6, "labelOverlap": false, "title": null}},
              "y": {"field": "v", "type": "quantitative", "scale": {"domain": [-100, 500], "nice": false}, "axis": {"values": [-100, 0, 100, 200, 300, 400, 500], "offset": -63, "labelPadding": 14, "title": null, "labelColor": {"condition": {"test": "datum.value < 0", "value": "#FF0000"}, "value": "#666666"}}}
            },
            "layer": [
              {"data": {"name": "p10a"}, "mark": {"type": "line", "strokeWidth": 4.5}, "encoding": {"color": {"datum": "PB粉-混合粉", "scale": {"domain": ["PB粉-混合粉", "PB粉-超特粉", "PB粉-杨迪粉"], "range": ["#F8B133", "#A865B8", "#E06B36"]}, "legend": {"orient": "none", "legendX": 75, "legendY": -41, "direction": "horizontal", "title": null, "columnPadding": 25}}}},
              {"data": {"name": "p10b"}, "mark": {"type": "line", "strokeWidth": 4.5}, "encoding": {"color": {"datum": "PB粉-超特粉"}}},
              {"data": {"name": "p10c"}, "mark": {"type": "line", "strokeWidth": 4.5}, "encoding": {"color": {"datum": "PB粉-杨迪粉"}}}
            ]
          },
          {
            "width": 640, "height": 133,
            "data": {"values": [{"t": "资料来源：Wind，Mysteel，光大期货研究所"}]},
            "mark": {"type": "text", "align": "left", "baseline": "middle", "fontSize": 21.5, "fontStyle": "italic", "fontWeight": 300, "color": "#A875C2", "font": "Noto Sans CJK SC"},
            "encoding": {
              "text": {"field": "t", "type": "nominal"},
              "x": {"datum": 25, "type": "quantitative", "scale": {"domain": [0, 640], "nice": false, "zero": false}, "axis": null},
              "y": {"datum": 107, "type": "quantitative", "scale": {"domain": [0, 133], "nice": false, "zero": false, "reverse": true}, "axis": {"values": [85, 130], "grid": true, "gridColor": "#B685CB", "gridWidth": 2, "domain": false, "ticks": false, "labels": false, "title": null}}
            }
          }
        ]
      },
      {
        "spacing": 0, "bounds": "flush",
        "resolve": {"scale": {"color": "independent", "x": "independent", "y": "independent"}, "legend": {"color": "independent"}},
        "vconcat": [
          {
            "width": 642, "height": 145,
            "data": {"values": [{"t": "图表9：高中品粉矿价差（单位：元/吨）"}]},
            "mark": {"type": "text", "align": "left", "baseline": "middle", "fontSize": 24, "fontWeight": 300, "color": "#B07CC6", "font": "Noto Sans CJK SC"},
            "encoding": {
              "text": {"field": "t", "type": "nominal"},
              "x": {"datum": 21, "type": "quantitative", "scale": {"domain": [0, 642], "nice": false, "zero": false}, "axis": null},
              "y": {"datum": 46, "type": "quantitative", "scale": {"domain": [0, 145], "nice": false, "zero": false, "reverse": true}, "axis": {"values": [23, 70], "grid": true, "gridColor": "#B685CB", "gridWidth": 2, "domain": false, "ticks": false, "labels": false, "title": null}}
            }
          },
          {
            "width": 644, "height": 166,
            "encoding": {
              "x": {"field": "d", "type": "temporal", "scale": {"domain": ["2020-12-01", "2022-05-20"], "range": [65, 644]}, "axis": {"format": "%Y-%m", "tickCount": {"interval": "month", "step": 1}, "labelAngle": -90, "labelPadding": 6, "labelOverlap": false, "title": null}},
              "y": {"field": "v", "type": "quantitative", "scale": {"domain": [0, 600], "nice": false}, "axis": {"values": [0, 100, 200, 300, 400, 500, 600], "offset": -65, "labelPadding": 14, "title": null}}
            },
            "layer": [
              {"data": {"name": "p9a"}, "mark": {"type": "line", "strokeWidth": 4.5}, "encoding": {"color": {"datum": "卡粉-纽曼粉", "scale": {"domain": ["卡粉-纽曼粉", "卡粉-PB粉", "卡粉-金布巴粉", "卡粉-麦克粉"], "range": ["#F6B132", "#A865B8", "#E06B36", "#FAB83A"]}, "legend": {"orient": "none", "legendX": 158, "legendY": -61, "direction": "horizontal", "columns": 2, "title": null, "columnPadding": 8, "rowPadding": -1}}}},
              {"data": {"name": "p9b"}, "mark": {"type": "line", "strokeWidth": 4.5}, "encoding": {"color": {"datum": "卡粉-PB粉"}}},
              {"data": {"name": "p9c"}, "mark": {"type": "line", "strokeWidth": 4.5}, "encoding": {"color": {"datum": "卡粉-金布巴粉"}}},
              {"data": {"name": "p9d"}, "mark": {"type": "line", "strokeWidth": 4.5}, "encoding": {"color": {"datum": "卡粉-麦克粉"}}}
            ]
          },
          {
            "width": 642, "height": 221,
            "data": {"values": [{"t": "图表11：中品位粉矿价差（单位：元/吨）"}]},
            "mark": {"type": "text", "align": "left", "baseline": "middle", "fontSize": 24, "fontWeight": 300, "color": "#B07CC6", "font": "Noto Sans CJK SC"},
            "encoding": {
              "text": {"field": "t", "type": "nominal"},
              "x": {"datum": 28, "type": "quantitative", "scale": {"domain": [0, 642], "nice": false, "zero": false}, "axis": null},
              "y": {"datum": 120, "type": "quantitative", "scale": {"domain": [0, 221], "nice": false, "zero": false, "reverse": true}, "axis": {"values": [97, 144], "grid": true, "gridColor": "#B685CB", "gridWidth": 2, "domain": false, "ticks": false, "labels": false, "title": null}}
            }
          },
          {
            "width": 644, "height": 174,
            "encoding": {
              "x": {"field": "d", "type": "temporal", "scale": {"domain": ["2020-12-01", "2022-05-20"], "range": [48, 644]}, "axis": {"format": "%Y-%m", "tickCount": {"interval": "month", "step": 1}, "labelAngle": -45, "labelPadding": 4, "labelOverlap": false, "title": null}},
              "y": {"field": "v", "type": "quantitative", "scale": {"domain": [0, 300], "nice": false}, "axis": {"values": [0, 50, 100, 150, 200, 250, 300], "offset": -48, "labelPadding": 14, "title": null}}
            },
            "layer": [
              {"data": {"name": "p11a"}, "mark": {"type": "line", "strokeWidth": 4}, "encoding": {"color": {"datum": "BRBF-PB粉", "scale": {"domain": ["BRBF-PB粉", "PB粉-麦克粉", "PB粉-金布巴粉", "PB粉-印粉61%", "纽曼粉-PB粉"], "range": ["#A865B8", "#E06B36", "#F8B133", "#D36FAA", "#BF3A67"]}, "legend": {"orient": "none", "legendX": 75, "legendY": -71, "direction": "horizontal", "columns": 3, "title": null, "columnPadding": 10, "rowPadding": -1}}}},
              {"data": {"name": "p11b"}, "mark": {"type": "line", "strokeWidth": 4}, "encoding": {"color": {"datum": "PB粉-麦克粉"}}},
              {"data": {"name": "p11c"}, "mark": {"type": "line", "strokeWidth": 4}, "encoding": {"color": {"datum": "PB粉-金布巴粉"}}},
              {"data": {"name": "p11d"}, "mark": {"type": "line", "strokeWidth": 4}, "encoding": {"color": {"datum": "PB粉-印粉61%"}}},
              {"data": {"name": "p11e"}, "mark": {"type": "line", "strokeWidth": 4}, "encoding": {"color": {"datum": "纽曼粉-PB粉"}}}
            ]
          },
          {
            "width": 642, "height": 135,
            "data": {"values": [{"t": ""}]},
            "mark": {"type": "text", "fontSize": 1},
            "encoding": {
              "text": {"field": "t", "type": "nominal"},
              "x": {"datum": 0, "type": "quantitative", "scale": {"domain": [0, 642], "nice": false, "zero": false}, "axis": null},
              "y": {"datum": 0, "type": "quantitative", "scale": {"domain": [0, 135], "nice": false, "zero": false, "reverse": true}, "axis": {"values": [87, 132], "grid": true, "gridColor": "#B685CB", "gridWidth": 2, "domain": false, "ticks": false, "labels": false, "title": null}}
            }
          }
        ]
      }
    ]
  },
  {
    "width": 1339, "height": 3,
    "data": {"values": [{"t": ""}]},
    "mark": {"type": "text", "fontSize": 1},
    "encoding": {
      "text": {"field": "t", "type": "nominal"},
      "x": {"datum": 0, "type": "quantitative", "scale": {"domain": [0, 1], "nice": false, "zero": false}, "axis": {"orient": "bottom", "domain": true, "domainColor": "#9B72C6", "domainWidth": 5, "ticks": false, "labels": false, "grid": false, "title": null}}
    }
  }
]
}
